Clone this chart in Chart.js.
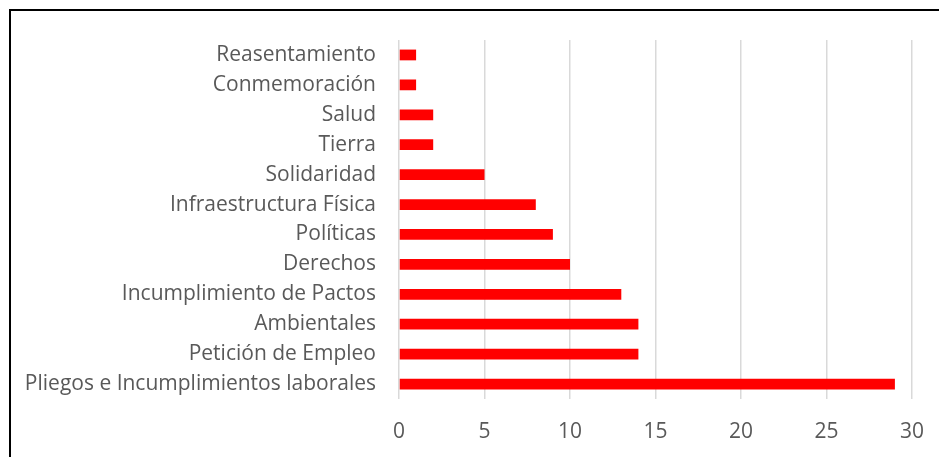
<!DOCTYPE html>
<html>
<head>
<meta charset="utf-8">
<script src="https://cdn.jsdelivr.net/npm/chart.js@4.4.1/dist/chart.umd.min.js"></script>
<style>
  html, body { margin: 0; padding: 0; background: #fff; overflow: hidden; }
  #wrap { position: relative; width: 939px; height: 457px; }
  #frame {
    position: absolute; left: 9px; top: 9px; width: 1000px; height: 500px;
    border-left: 2px solid #000; border-top: 2px solid #000;
  }
  canvas { position: absolute; left: 0; top: 0; }
</style>
</head>
<body>
<div id="wrap">
  <div id="frame"></div>
  <canvas id="chart" width="939" height="457"></canvas>
</div>
<script>
const categories = [
    'Reasentamiento',
    'Conmemoración',
    'Salud',
    'Tierra',
    'Solidaridad',
    'Infraestructura Física',
    'Políticas',
    'Derechos',
    'Incumplimiento de Pactos',
    'Ambientales',
    'Petición de Empleo',
    'Pliegos e Incumplimientos laborales'
];
const counts = [1, 1, 2, 2, 5, 8, 9, 10, 13, 14, 14, 29];
const xMin = 0;
const xMax = 30;
const xStep = 5;

const textColor = '#595959';
const fontFamily = '"Open Sans", "Noto Sans", sans-serif';

new Chart(document.getElementById('chart'), {
    type: 'bar',
    data: {
        labels: categories,
        datasets: [{
            data: counts,
            backgroundColor: '#ff0000',
            barPercentage: 0.36,
            categoryPercentage: 1
        }]
    },
    options: {
        indexAxis: 'y',
        responsive: false,
        animation: false,
        layout: { padding: { left: 0, right: 27, top: 40, bottom: 0 } },
        plugins: {
            legend: { display: false },
            tooltip: { enabled: false }
        },
        scales: {
            x: {
                min: xMin,
                max: xMax,
                ticks: {
                    stepSize: xStep,
                    color: textColor,
                    padding: 20,
                    font: { family: fontFamily, size: 21 }
                },
                grid: { color: '#d9d9d9', lineWidth: 1.5, drawTicks: false },
                border: { display: false },
                afterFit: scale => {
                    scale.height = 58;
                    scale.paddingLeft = 0;
                    scale.paddingRight = 0;
                }
            },
            y: {
                ticks: {
                    color: textColor,
                    padding: 23,
                    font: { family: fontFamily, size: 21 }
                },
                grid: { display: false, drawTicks: false },
                border: { display: false },
                afterFit: scale => {
                    scale.width = 399;
                    scale.paddingTop = 0;
                    scale.paddingBottom = 0;
                }
            }
        }
    }
});
</script>
</body>
</html>
